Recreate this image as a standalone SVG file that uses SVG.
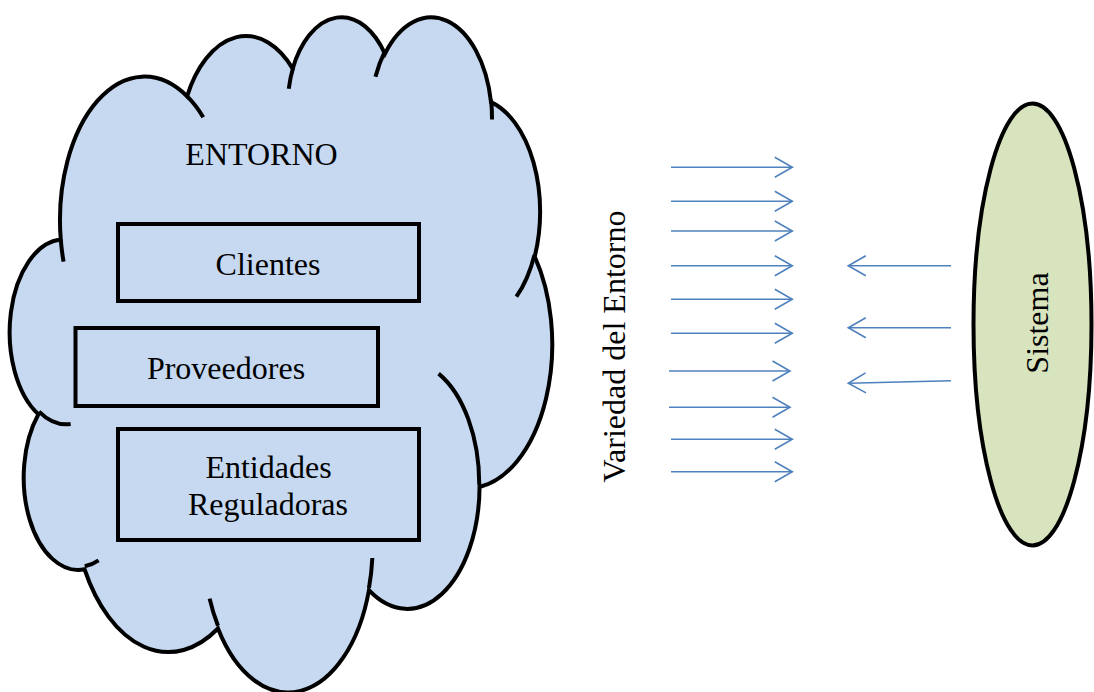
<svg xmlns="http://www.w3.org/2000/svg" width="1094" height="692" viewBox="0 0 1094 692">
<style>
.cloud{fill:#C6D9F1;stroke:#000;stroke-width:4}
.stub{fill:none;stroke:#000;stroke-width:4}
.box{fill:#C6D9F1;stroke:#000;stroke-width:4}
.t{font-family:"Liberation Serif","Times New Roman",serif;font-size:32px;fill:#000}
.arr{stroke:#4F81BD;stroke-width:1.6;fill:none;marker-end:url(#ah)}
</style>
<defs>
<marker id="ah" markerUnits="userSpaceOnUse" markerWidth="22" markerHeight="24" refX="19" refY="12" orient="auto" viewBox="0 0 22 24">
<path d="M1.5,2 L19,12 L1.5,22" fill="none" stroke="#4F81BD" stroke-width="1.6"/>
</marker>
</defs>
<rect width="1094" height="692" fill="#fff"/>
<g id="entorno">
<path class="cloud" d="M60.75,239.53 A84.41,143.59 0 0 1 187.07,96.29 A66.66,113.55 0 0 1 292.70,68.64 A54.56,92.89 0 0 1 384.92,53.78 A60.71,103.05 0 0 1 490.99,102.15 A66.66,113.64 0 0 1 534.74,256.59 A84.69,144.06 0 0 1 479.55,486.95 A72.31,122.92 0 0 1 368.94,590.23 A84.40,143.98 0 0 1 218.00,628.52 A96.50,164.73 0 0 1 84.54,569.25 A54.50,92.47 0 0 1 38.40,414.23 A54.31,92.89 0 0 1 60.75,239.53 Z"/>
<path class="stub" d="M70.66,424.02 A54.31,92.89 0 0 1 39.0,411.56 M98.6,560.30 A54.50,92.47 0 0 1 84.75,566.26 M217.98,625.78 A84.40,143.98 0 0 1 209.63,598.59 M372.34,557.98 A84.40,143.98 0 0 1 369.0,587.81 M438.61,373.66 A72.31,122.92 0 0 1 479.25,485.15 M534.48,254.91 A66.66,113.64 0 0 1 516.38,296.71 M491.05,99.78 A60.71,103.05 0 0 1 492.0,119.53 M375.48,76.75 A60.71,103.05 0 0 1 384.75,51.56 M288.76,88.75 A54.56,92.89 0 0 1 293.25,67.04 M187,96.13 A84.41,143.59 0 0 1 203.25,117.19 M63.59,261.70 A84.41,143.59 0 0 1 60.75,239.53"/>
<text class="t" x="261.5" y="165" text-anchor="middle">ENTORNO</text>
</g>
<g id="clientes">
<rect class="box" x="118" y="224" width="301" height="77"/>
<text class="t" x="268" y="275" text-anchor="middle">Clientes</text>
</g>
<g id="proveedores">
<rect class="box" x="75.5" y="328" width="302.5" height="78"/>
<text class="t" x="226" y="379" text-anchor="middle">Proveedores</text>
</g>
<g id="entidades">
<rect class="box" x="118" y="429" width="301" height="111"/>
<text class="t" x="268.5" y="478" text-anchor="middle">Entidades</text>
<text class="t" x="268" y="515" text-anchor="middle">Reguladoras</text>
</g>
<g id="variedad">
<text class="t" transform="translate(625,346.5) rotate(-90)" text-anchor="middle">Variedad del Entorno</text>
</g>
<g id="sistema">
<ellipse cx="1032.5" cy="324.5" rx="59" ry="221" fill="#D7E4BD" stroke="#000" stroke-width="4"/>
<text class="t" transform="translate(1048,323) rotate(-90)" text-anchor="middle">Sistema</text>
</g>
<g id="connectors">
<line class="arr" x1="671" y1="167.3" x2="792.3" y2="167.3"/>
<line class="arr" x1="671" y1="201.3" x2="792.3" y2="201.3"/>
<line class="arr" x1="671" y1="231" x2="792.3" y2="231"/>
<line class="arr" x1="671" y1="265.7" x2="792.3" y2="265.7"/>
<line class="arr" x1="671" y1="299.3" x2="792.3" y2="299.3"/>
<line class="arr" x1="671" y1="333.3" x2="792.3" y2="333.3"/>
<line class="arr" x1="669" y1="371" x2="790" y2="371"/>
<line class="arr" x1="669" y1="407.3" x2="790" y2="407.3"/>
<line class="arr" x1="671" y1="439.3" x2="792.3" y2="439.3"/>
<line class="arr" x1="671" y1="471.7" x2="792.3" y2="471.7"/>
<line class="arr" x1="951" y1="265.7" x2="848.3" y2="265.7"/>
<line class="arr" x1="951" y1="327.7" x2="848.3" y2="327.7"/>
<line class="arr" x1="951" y1="380.7" x2="848.3" y2="383.3"/>
</g>
</svg>
